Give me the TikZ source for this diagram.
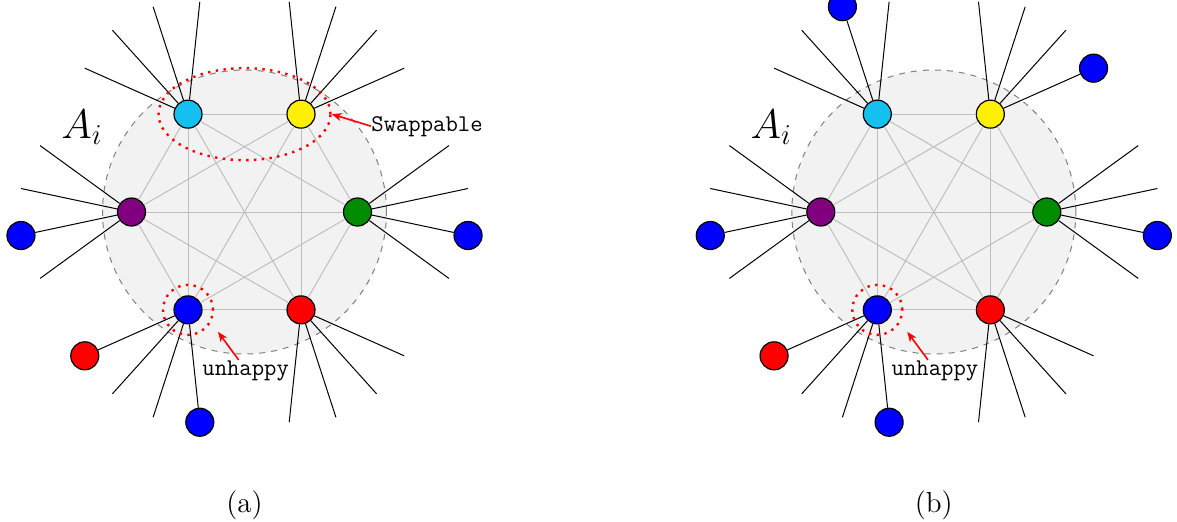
\documentclass[tikz,border=0pt]{standalone}
\usetikzlibrary{arrows.meta,calc,shapes.geometric}
\definecolor{ccyan}{RGB}{20,192,240}
\definecolor{cyellow}{RGB}{255,240,0}
\definecolor{cpurple}{RGB}{128,0,128}
\definecolor{cgreen}{RGB}{0,140,0}
\definecolor{cblue}{RGB}{0,0,255}
\definecolor{cred}{RGB}{255,0,0}
\tikzset{
  vtx/.style={circle,draw=black,line width=0.6pt,minimum size=14pt,inner sep=0pt},
  inedge/.style={draw=gray!50,line width=0.5pt},
  spoke/.style={draw=black,line width=0.5pt},
  region/.style={fill=gray!10,draw=gray,dashed,line width=0.5pt},
  reddots/.style={draw=red,line width=1.2pt,dash pattern=on 1.2pt off 2.7pt},
  redarrow/.style={draw=red,line width=0.8pt,-{Stealth[length=5pt,width=4pt,inset=1.5pt]}},
  ttlabel/.style={inner sep=0pt,font=\fontsize{12}{14}\selectfont\ttfamily},
  caplabel/.style={inner sep=0pt,font=\fontsize{14.5}{17}\selectfont},
  setlabel/.style={inner sep=0pt,font=\fontsize{19.5}{23}\selectfont},
}
\newcommand\hexpanel[3]{%
  \coordinate (#2O) at (#1,309);
  \path[region] (#2O) circle (142);
  \foreach \n/\a/\c in {C/120/ccyan,Y/60/cyellow,P/180/cpurple,G/0/cgreen,B/240/cblue,R/300/cred}
    \node[vtx,fill=\c] (#2\n) at ($(#2O)+(\a:113)$) {};
  \foreach \p/\q in {C/Y,C/P,C/G,C/B,C/R,Y/P,Y/G,Y/B,Y/R,P/G,P/B,P/R,G/B,G/R,B/R}
    \draw[inedge] (#2\p) -- (#2\q);
  #3
  \foreach \n/\a in {C/120,Y/60,P/180,G/0,B/240,R/300}{
    \foreach \o [count=\i] in {-36,-12,12,36}{
      \ifcsname pgf@sh@ns@#2o\n\i\endcsname
        \draw[spoke] (#2\n) -- (#2o\n\i);
      \else
        \coordinate (#2e\n\i) at ($(#2\n.center)+(\a+\o:113)$);
        \draw[spoke] (#2\n) -- (#2e\n\i);
      \fi
    }
  }
  \node[reddots,circle,minimum size=25pt,inner sep=0pt] (#2un) at (#2B.center) {};
  \node[ttlabel,anchor=base west] (#2unt) at ($(#2O)+(-42.5,-163)$) {unhappy};
  \coordinate (#2unTip) at ($(#2B.center)+(30,-22)$);
  \draw[redarrow] ([xshift=-3.5pt]#2unt.north) -- (#2unTip);
  \node[setlabel,anchor=base west] (#2A) at ($(#2O)+(-183.5,74)$) {$A_i$};
  \node[caplabel,anchor=base] (#2cap) at ($(#2O)+(0,-300)$) {(#2)};
}
\begin{document}
\begin{tikzpicture}[x=0.5pt,y=0.5pt]
\useasboundingbox (0,0) rectangle (1177,521);
\hexpanel{244.5}{a}{%
  \node[vtx,fill=cblue] (aoP3) at ($(aP.center)+(192:113)$) {};
  \node[vtx,fill=cblue] (aoG2) at ($(aG.center)+(-12:113)$) {};
  \node[vtx,fill=cred]  (aoB1) at ($(aB.center)+(204:113)$) {};
  \node[vtx,fill=cblue] (aoB4) at ($(aB.center)+(276:113)$) {};
}
\node[reddots,ellipse,minimum width=86pt,minimum height=46pt,inner sep=0pt] (asw) at ($(aC.center)!0.5!(aY.center)$) {};
\node[ttlabel,anchor=base west] (aswt) at (371,390) {Swappable};
\draw[redarrow] (aswt.west) -- (asw.east);
\hexpanel{933.8}{b}{%
  \node[vtx,fill=cblue] (boP3) at ($(bP.center)+(192:113)$) {};
  \node[vtx,fill=cblue] (boG2) at ($(bG.center)+(-12:113)$) {};
  \node[vtx,fill=cred]  (boB1) at ($(bB.center)+(204:113)$) {};
  \node[vtx,fill=cblue] (boB4) at ($(bB.center)+(276:113)$) {};
  \node[vtx,fill=cblue] (boC2) at ($(bC.center)+(108:113)$) {};
  \node[vtx,fill=cblue] (boY1) at ($(bY.center)+(24:113)$) {};
}
\end{tikzpicture}
\end{document}
